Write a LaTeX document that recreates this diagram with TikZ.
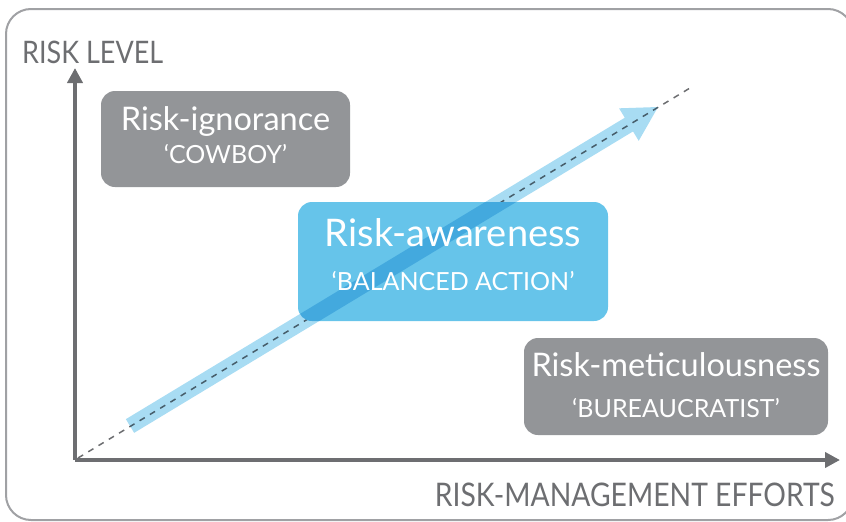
\documentclass[tikz,border=0pt]{standalone}
\usepackage{fontspec}
\setmainfont{Lato}
\newfontfamily\axisfont{Lato}[FakeStretch=0.87]
\usetikzlibrary{arrows.meta,calc}

\definecolor{labelgray}{HTML}{6D6E71}
\definecolor{boxgray}{HTML}{939598}
\definecolor{framegray}{HTML}{A0A1A4}
\definecolor{awareblue}{HTML}{66C4EA}
\definecolor{arrowblue}{HTML}{A8DCF3}

\begin{document}
\begin{tikzpicture}[x=1pt,y=-1pt,
        zonebox/.style={fill=boxgray, rounded corners=14pt, inner sep=0pt},
        zonetitle/.style={text=white, anchor=base, inner sep=0pt, font=\fontsize{32.5}{34}\selectfont},
        zonesub/.style={text=white, anchor=base, inner sep=0pt, font=\fontsize{25}{27}\selectfont},
        axislabel/.style={text=labelgray, anchor=base west, inner sep=0pt, font=\axisfont\fontsize{31}{33}\selectfont},
        axisline/.style={labelgray, line width=4pt, -{Triangle[width=15pt,length=15pt]}}]
        \useasboundingbox (0,0) rectangle (846,522);
        \path[clip] (0,0) rectangle (846,522);

        % outer frame
        \draw[framegray, line width=2pt, rounded corners=25pt] (6,9) rectangle (853,520);

        % axes
        \coordinate (origin) at (75,460);
        \coordinate (ytop) at (75,68);
        \coordinate (xend) at (840,460);
        \draw[axisline] (origin) -- (ytop);
        \draw[axisline] (origin) -- (xend);
        \node[axislabel] (risklevel) at (22,63) {RISK LEVEL};
        \node[axislabel, anchor=base east, font=\axisfont\fontsize{32.5}{34}\selectfont] (efforts) at (835,506) {RISK-MANAGEMENT EFFORTS};

        % diagonal
        \coordinate (diagstart) at (78,458);
        \coordinate (diagend) at (690,88);
        \draw[labelgray, line width=1.5pt, dash pattern=on 6pt off 6pt] (diagstart) -- (diagend);

        % zones
        \node[zonebox, minimum width=249pt, minimum height=96pt] (ignorance) at (225.5,139) {};
        \node[zonebox, fill=awareblue, minimum width=310pt, minimum height=119pt] (awareness) at (453,261.5) {};
        \node[zonebox, minimum width=304pt, minimum height=97pt] (meticulous) at (676,386.5) {};

        % trend arrow, one outline so that multiply does not double up
        \coordinate (trendtail) at (130,426);
        \coordinate (trendtip) at (658,107);
        \coordinate (trendback) at ($(trendtip)!34pt!(trendtail)$);
        \begin{scope}[blend mode=multiply]
            \fill[arrowblue] ($(trendtail)!8pt!90:(trendtip)$) -- ($(trendback)!8pt!-90:(trendtail)$)
                -- ($(trendback)!19pt!-90:(trendtail)$) -- (trendtip)
                -- ($(trendback)!19pt!90:(trendtail)$) -- ($(trendback)!8pt!90:(trendtail)$)
                -- ($(trendtail)!8pt!-90:(trendtip)$) -- cycle;
        \end{scope}

        % zone texts
        \node[zonetitle] (ignorancetitle) at ([yshift=9pt]ignorance.center) {Risk-ignorance};
        \node[zonesub] (ignorancesub) at ([yshift=-24pt]ignorance.center) {`COWBOY'};
        \node[zonetitle, font=\fontsize{38}{40}\selectfont] (awarenesstitle) at ([yshift=15pt]awareness.center) {Risk-awareness};
        \node[zonesub] (awarenesssub) at ([yshift=-29pt]awareness.center) {`BALANCED ACTION'};
        \node[zonetitle] (meticuloustitle) at ([yshift=10pt]meticulous.center) {Risk-meticulousness};
        \node[zonesub] (meticuloussub) at ([yshift=-31pt]meticulous.center) {`BUREAUCRATIST'};
    \end{tikzpicture}
\end{document}
